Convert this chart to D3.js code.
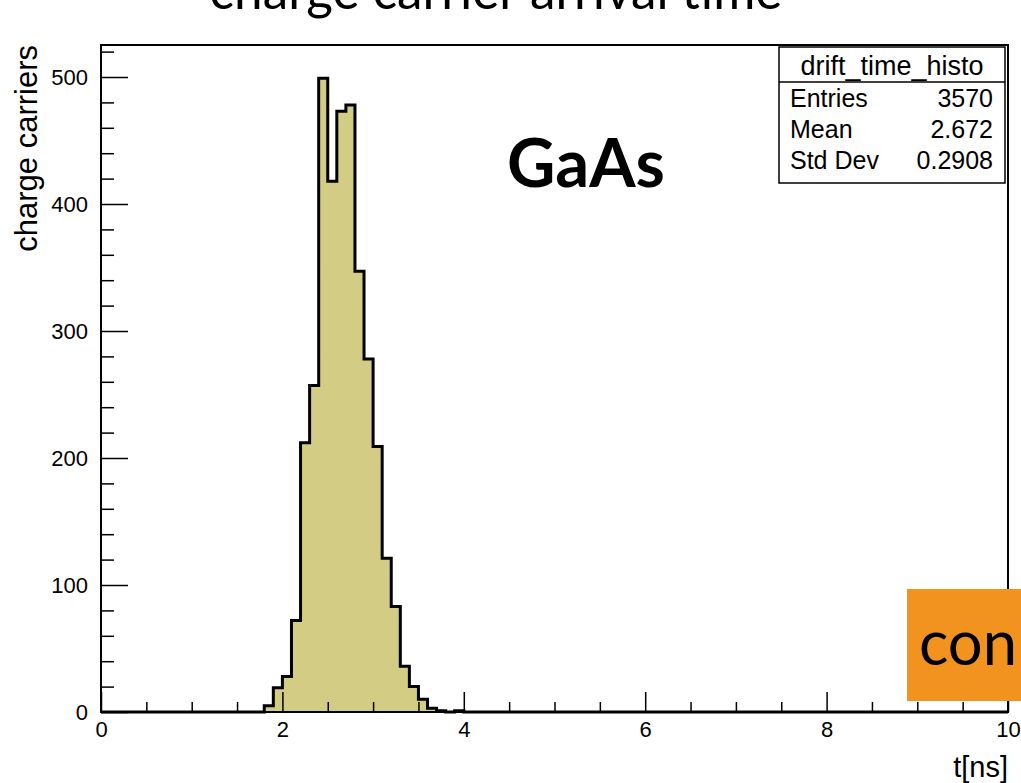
<!DOCTYPE html>
<html>
<head>
<meta charset="utf-8">
<script src="https://cdn.jsdelivr.net/npm/d3@7"></script>
<style>
  html, body { margin: 0; padding: 0; background: #fff; }
  svg { display: block; }
  .lab { font-family: "Liberation Sans", Arial, Helvetica, sans-serif; fill: #000; }
  .geo { font-family: Lato, "Open Sans", sans-serif; fill: #000; }
</style>
</head>
<body>
<svg id="chart" width="1021" height="783"></svg>
<script>
// Histogram binning: 100 bins of 0.1 ns from 0 to 10 ns
const binStart = 0;
const binWidth = 0.1;
const counts = [
  0, 0, 0, 0, 0, 0, 0, 0, 0, 0,
  0, 0, 0, 0, 0, 0, 0, 0, 5, 19,
  28, 72, 212, 257, 499, 418, 473, 478, 347, 278,
  209, 121, 83, 36, 20, 10, 3, 1, 0, 1,
  0, 0, 0, 0, 0, 0, 0, 0, 0, 0,
  0, 0, 0, 0, 0, 0, 0, 0, 0, 0,
  0, 0, 0, 0, 0, 0, 0, 0, 0, 0,
  0, 0, 0, 0, 0, 0, 0, 0, 0, 0,
  0, 0, 0, 0, 0, 0, 0, 0, 0, 0,
  0, 0, 0, 0, 0, 0, 0, 0, 0, 0
];

// Axis ticks and labels
const xMajorTicks = [0, 2, 4, 6, 8, 10];
const xMinorTicks = [0.5, 1, 1.5, 2.5, 3, 3.5, 4.5, 5, 5.5, 6.5, 7, 7.5, 8.5, 9, 9.5];
const yMajorTicks = [0, 100, 200, 300, 400, 500];
const yMinorTicks = [20, 40, 60, 80, 120, 140, 160, 180, 220, 240, 260, 280,
                     320, 340, 360, 380, 420, 440, 460, 480, 520];

// Statistics box
const statsTitle = "drift_time_histo";
const statsLabels = ["Entries", "Mean", "Std Dev"];
const statsValues = ["3570", "2.672", "0.2908"];

const titleText = "charge carrier arrival time";
const xTitle = "t[ns]";
const yTitle = "charge carriers";
const materialText = "GaAs";
const badgeText = "con";

const svg = d3.select("#chart");

const frame = { left: 101, right: 1008, top: 45, bottom: 712 };
const x = d3.scaleLinear().domain([0, 10]).range([frame.left, frame.right]);
const y = d3.scaleLinear().domain([0, 525.2]).range([frame.bottom, frame.top]);

// Title (partly above the visible page)
function fitText(sel, width) {
  const fs = parseFloat(sel.attr("font-size"));
  const len = sel.node().getComputedTextLength();
  sel.attr("font-size", fs * width / len);
}
const title = svg.append("text").attr("class", "geo")
  .attr("x", 496).attr("y", 9).attr("text-anchor", "middle")
  .attr("font-size", 40).text(titleText);
fitText(title, 573);

// Histogram: step outline with filled area
const edges = counts.map((c, i) => ({ x0: binStart + i * binWidth, v: c }));
edges.push({ x0: binStart + counts.length * binWidth, v: counts[counts.length - 1] });

const area = d3.area()
  .x(d => x(d.x0)).y0(y(0)).y1(d => y(d.v))
  .curve(d3.curveStepAfter);
const line = d3.line()
  .x(d => x(d.x0)).y(d => y(d.v))
  .curve(d3.curveStepAfter);

svg.append("path").datum(edges)
  .attr("d", area).attr("fill", "#d2cc85").attr("stroke", "none");

// Axes
const gx = svg.append("g").attr("class", "lab").attr("transform", `translate(0,${frame.bottom})`);
gx.call(d3.axisBottom(x).tickValues(xMinorTicks).tickSizeInner(-10).tickSizeOuter(0).tickFormat(""));
gx.call(g => g.select(".domain").remove());
const gxMaj = svg.append("g").attr("class", "lab").attr("transform", `translate(0,${frame.bottom})`);
gxMaj.call(d3.axisBottom(x).tickValues(xMajorTicks).tickSizeInner(-20).tickSizeOuter(0)
  .tickPadding(9).tickFormat(d3.format("d")));
gxMaj.select(".domain").remove();

const gy = svg.append("g").attr("transform", `translate(${frame.left},0)`);
gy.call(d3.axisLeft(y).tickValues(yMinorTicks).tickSizeInner(-13).tickSizeOuter(0).tickFormat(""));
gy.select(".domain").remove();
const gyMaj = svg.append("g").attr("transform", `translate(${frame.left},0)`);
gyMaj.call(d3.axisLeft(y).tickValues(yMajorTicks).tickSizeInner(-27).tickSizeOuter(0)
  .tickPadding(13).tickFormat(d3.format("d")));
gyMaj.select(".domain").remove();

svg.selectAll(".tick line").attr("stroke", "#000").attr("stroke-width", 1.5);
svg.selectAll(".tick text")
  .attr("font-family", "'Liberation Sans', Arial, Helvetica, sans-serif")
  .attr("font-size", 22).attr("fill", "#000");

// Frame
svg.append("rect")
  .attr("x", frame.left).attr("y", frame.top)
  .attr("width", frame.right - frame.left).attr("height", frame.bottom - frame.top)
  .attr("fill", "none").attr("stroke", "#000").attr("stroke-width", 2);

// Histogram outline on top of the frame
svg.append("path").datum(edges)
  .attr("d", line).attr("fill", "none").attr("stroke", "#000")
  .attr("stroke-width", 3).attr("stroke-linejoin", "miter");

// Axis titles
svg.append("text").attr("class", "lab")
  .attr("transform", `translate(37,${frame.top}) rotate(-90)`)
  .attr("text-anchor", "end").attr("font-size", 31).text(yTitle);
svg.append("text").attr("class", "lab")
  .attr("x", frame.right).attr("y", 777).attr("text-anchor", "end")
  .attr("font-size", 29).text(xTitle);

// Statistics box
const sb = { x0: 779, x1: 1005, y0: 47, y1: 183, sep: 82 };
svg.append("rect").attr("x", sb.x0).attr("y", sb.y0)
  .attr("width", sb.x1 - sb.x0).attr("height", sb.y1 - sb.y0)
  .attr("fill", "#fff").attr("stroke", "#000").attr("stroke-width", 1.5);
svg.append("line").attr("x1", sb.x0).attr("x2", sb.x1).attr("y1", sb.sep).attr("y2", sb.sep)
  .attr("stroke", "#000").attr("stroke-width", 1.5);
svg.append("text").attr("class", "lab").attr("x", (sb.x0 + sb.x1) / 2).attr("y", 75)
  .attr("text-anchor", "middle").attr("font-size", 27).text(statsTitle);
const rowBase = [107, 138, 169];
statsLabels.forEach((lab, i) => {
  svg.append("text").attr("class", "lab").attr("x", 790).attr("y", rowBase[i])
    .attr("font-size", 25).text(lab);
  svg.append("text").attr("class", "lab").attr("x", 993).attr("y", rowBase[i])
    .attr("text-anchor", "end").attr("font-size", 25).text(statsValues[i]);
});

// Material label
const mat = svg.append("text").attr("class", "geo")
  .attr("x", 507).attr("y", 187).attr("font-weight", 700)
  .attr("font-size", 64).text(materialText);
fitText(mat, 158);

// Orange badge at the lower right
svg.append("rect").attr("x", 907).attr("y", 589).attr("width", 120).attr("height", 112)
  .attr("fill", "#f3931f");
const badge = svg.append("text").attr("class", "geo")
  .attr("x", 919).attr("y", 665).attr("font-size", 56).text(badgeText);
fitText(badge, 98);
</script>
</body>
</html>
